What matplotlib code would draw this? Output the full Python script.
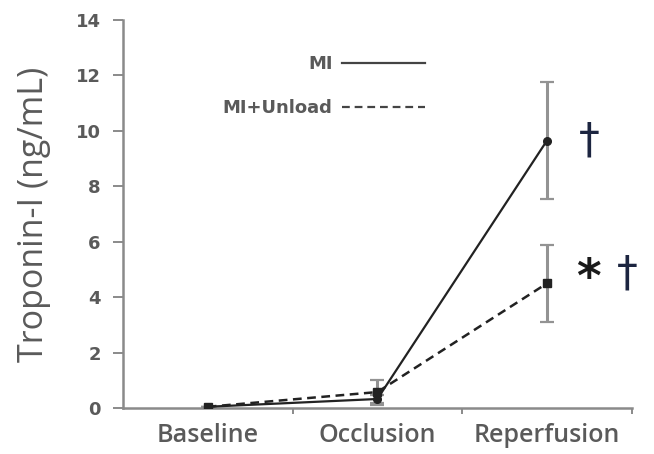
import numpy as np
import matplotlib
matplotlib.use("Agg")
import matplotlib.pyplot as plt
from matplotlib.ticker import FixedLocator

categories = ["Baseline", "Occlusion", "Reperfusion"]
mi_mean = [0.05, 0.33, 9.65]
mi_err = [0.0, 0.15, 2.1]
unload_mean = [0.05, 0.58, 4.5]
unload_err = [0.0, 0.45, 1.4]
star_labels = ["", "*"]
dagger_labels = ["\u2020", "\u2020"]

grey = "#5a5a5a"
axis_grey = "#8a8a8a"

fig = plt.figure(figsize=(6.54, 4.54), dpi=100)
ax = fig.add_axes([0.188, 0.101, 0.778, 0.855])

x = np.arange(len(categories))

# error bars drawn first so the lines sit on top
for mean, err in [(mi_mean, mi_err), (unload_mean, unload_err)]:
    ax.errorbar(x, mean, yerr=err, fmt="none", ecolor="#939393",
                elinewidth=2.2, capsize=5, capthick=1.6, zorder=1)

ax.plot(x, mi_mean, color="#222222", lw=1.6, marker="o", ms=5.5,
        label="MI", zorder=3)
ax.plot(x, unload_mean, color="#222222", lw=1.8, ls=(0, (3.5, 2.2)), marker="s",
        ms=6, label="MI+Unload", zorder=3)

# significance markers next to the reperfusion points
for val, star, dag in zip([mi_mean[2], unload_mean[2]], star_labels, dagger_labels):
    if star:
        ax.annotate(star, (x[2], val), xytext=(21, 3), textcoords="offset points",
                    ha="left", va="center", fontsize=34, color="#1a1a1a",
                    family="DejaVu Sans", fontweight="bold")
        dx, dy = 50, 7
    else:
        dx, dy = 23, 0
    ax.annotate(dag, (x[2], val), xytext=(dx, dy), textcoords="offset points",
                ha="left", va="center", fontsize=30, color="#1c2540",
                family="DejaVu Sans")

ax.set_xlim(-0.5, 2.5)
ax.set_ylim(0, 14)
ax.set_yticks(np.arange(0, 15, 2))
ax.set_xticks(x)
ax.set_xticklabels(categories)
ax.xaxis.set_minor_locator(FixedLocator([0.5, 1.5, 2.5]))
ax.tick_params(axis="x", which="major", length=0, pad=11)
ax.tick_params(axis="x", which="minor", length=4, width=1.4, color=axis_grey)
ax.tick_params(axis="y", length=7, width=1.4, color=axis_grey, pad=9)

for lab in ax.get_xticklabels():
    lab.set_family("Open Sans")
    lab.set_fontweight("semibold")
    lab.set_fontsize(18)
    lab.set_color(grey)
for lab in ax.get_yticklabels():
    lab.set_family("DejaVu Sans")
    lab.set_fontweight("bold")
    lab.set_fontsize(13)
    lab.set_color(grey)

ax.set_ylabel("Troponin-I (ng/mL)", family="Open Sans", fontsize=24.5,
              color=grey, labelpad=18)

for side in ["top", "right"]:
    ax.spines[side].set_visible(False)
for side in ["left", "bottom"]:
    ax.spines[side].set_color(axis_grey)
    ax.spines[side].set_linewidth(1.8)

leg = ax.legend(loc="upper right", bbox_to_anchor=(0.593, 0.91), frameon=False,
                markerfirst=False, handlelength=4.6, handletextpad=0.5,
                labelspacing=1.45, borderpad=0, borderaxespad=0,
                prop={"family": "DejaVu Sans", "weight": "bold", "size": 13})
for t in leg.get_texts():
    t.set_color(grey)
for h in leg.legend_handles:
    h.set_marker("")
    h.set_color("#444444")
    h.set_linewidth(1.6)

fig.savefig("out.png", dpi=100)
